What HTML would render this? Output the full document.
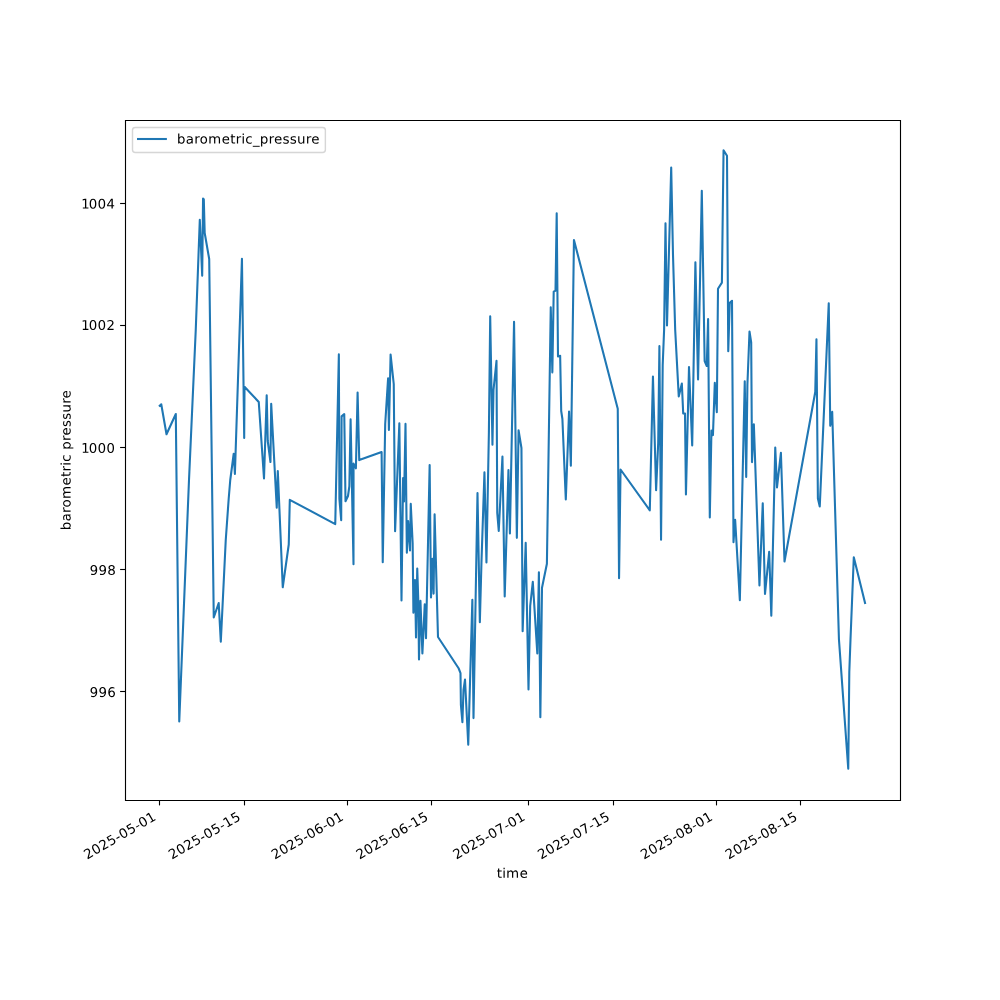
<!DOCTYPE html>
<html lang="en"><head><meta charset="utf-8"><title>barometric_pressure over time</title>
<style>
html,body{margin:0;padding:0;background:#fff;}
body{width:1000px;height:1000px;overflow:hidden;position:relative;font-family:"Liberation Sans",sans-serif;}
svg{position:absolute;left:0;top:0;display:block;}
svg.t text{font-family:"Liberation Sans",sans-serif;font-size:14.5px;fill:#000;fill-opacity:0;}
</style></head><body>
 <svg width="1000" height="1000" viewBox="0 0 720 720" role="img" aria-label="Line chart of barometric_pressure over time"><defs><style type="text/css">*{stroke-linejoin: round; stroke-linecap: butt}</style></defs><g id="figure_1"><g id="patch_1"><path d="M 0 720 L 720 720 L 720 0 L 0 0 z " style="fill: #ffffff"/></g><g id="axes_1"><g id="patch_2"><path d="M 90 576 L 648 576 L 648 86.4 L 90 86.4 z " style="fill: #ffffff"/></g><g id="matplotlib.axis_1"><g id="xtick_1"><g id="line2d_1"><defs><path id="mf0cb0c5681" d="M 0 0 L 0 3.5 " style="stroke: #000000; stroke-opacity: 0; stroke-width: 0.8"/></defs><g><use href="#mf0cb0c5681" x="114.768" y="576" style="fill-opacity: 0; stroke: #000000; stroke-opacity: 0; stroke-width: 0.8"/></g></g><g id="text_1" transform="translate(-0.648 0.288)"><!-- 2025-05-01 --><g transform="translate(63.398 618.638) rotate(-30) scale(0.1 -0.1)"><defs><path id="DejaVuSans-32" d="M 1228 531 L 3431 531 L 3431 0 L 469 0 L 469 531 Q 828 903 1448 1529 Q 2069 2156 2228 2338 Q 2531 2678 2651 2914 Q 2772 3150 2772 3378 Q 2772 3750 2511 3984 Q 2250 4219 1831 4219 Q 1534 4219 1204 4116 Q 875 4013 500 3803 L 500 4441 Q 881 4594 1212 4672 Q 1544 4750 1819 4750 Q 2544 4750 2975 4387 Q 3406 4025 3406 3419 Q 3406 3131 3298 2873 Q 3191 2616 2906 2266 Q 2828 2175 2409 1742 Q 1991 1309 1228 531 z " transform="scale(0.015)"/><path id="DejaVuSans-30" d="M 2034 4250 Q 1547 4250 1301 3770 Q 1056 3291 1056 2328 Q 1056 1369 1301 889 Q 1547 409 2034 409 Q 2525 409 2770 889 Q 3016 1369 3016 2328 Q 3016 3291 2770 3770 Q 2525 4250 2034 4250 z M 2034 4750 Q 2819 4750 3233 4129 Q 3647 3509 3647 2328 Q 3647 1150 3233 529 Q 2819 -91 2034 -91 Q 1250 -91 836 529 Q 422 1150 422 2328 Q 422 3509 836 4129 Q 1250 4750 2034 4750 z " transform="scale(0.015)"/><path id="DejaVuSans-35" d="M 691 4666 L 3169 4666 L 3169 4134 L 1269 4134 L 1269 2991 Q 1406 3038 1543 3061 Q 1681 3084 1819 3084 Q 2600 3084 3056 2656 Q 3513 2228 3513 1497 Q 3513 744 3044 326 Q 2575 -91 1722 -91 Q 1428 -91 1123 -41 Q 819 9 494 109 L 494 744 Q 775 591 1075 516 Q 1375 441 1709 441 Q 2250 441 2565 725 Q 2881 1009 2881 1497 Q 2881 1984 2565 2268 Q 2250 2553 1709 2553 Q 1456 2553 1204 2497 Q 953 2441 691 2322 L 691 4666 z " transform="scale(0.015)"/><path id="DejaVuSans-2d" d="M 313 2009 L 1997 2009 L 1997 1497 L 313 1497 L 313 2009 z " transform="scale(0.015)"/><path id="DejaVuSans-31" d="M 794 531 L 1825 531 L 1825 4091 L 703 3866 L 703 4441 L 1819 4666 L 2450 4666 L 2450 531 L 3481 531 L 3481 0 L 794 0 L 794 531 z " transform="scale(0.015)"/></defs><use href="#DejaVuSans-32"/><use href="#DejaVuSans-30" transform="translate(63.623 0)"/><use href="#DejaVuSans-32" transform="translate(127.246 0)"/><use href="#DejaVuSans-35" transform="translate(190.869 0)"/><use href="#DejaVuSans-2d" transform="translate(254.492 0)"/><use href="#DejaVuSans-30" transform="translate(290.576 0)"/><use href="#DejaVuSans-35" transform="translate(354.199 0)"/><use href="#DejaVuSans-2d" transform="translate(417.822 0)"/><use href="#DejaVuSans-30" transform="translate(453.906 0)"/><use href="#DejaVuSans-31" transform="translate(517.529 0)"/></g></g></g><g id="xtick_2"><g id="line2d_2"><g><use href="#mf0cb0c5681" x="175.772" y="576" style="fill-opacity: 0; stroke: #000000; stroke-opacity: 0; stroke-width: 0.8"/></g></g><g id="text_2" transform="translate(-0.648 0.288)"><!-- 2025-05-15 --><g transform="translate(124.402 618.638) rotate(-30) scale(0.1 -0.1)"><use href="#DejaVuSans-32"/><use href="#DejaVuSans-30" transform="translate(63.623 0)"/><use href="#DejaVuSans-32" transform="translate(127.246 0)"/><use href="#DejaVuSans-35" transform="translate(190.869 0)"/><use href="#DejaVuSans-2d" transform="translate(254.492 0)"/><use href="#DejaVuSans-30" transform="translate(290.576 0)"/><use href="#DejaVuSans-35" transform="translate(354.199 0)"/><use href="#DejaVuSans-2d" transform="translate(417.822 0)"/><use href="#DejaVuSans-31" transform="translate(453.906 0)"/><use href="#DejaVuSans-35" transform="translate(517.529 0)"/></g></g></g><g id="xtick_3"><g id="line2d_3"><g><use href="#mf0cb0c5681" x="249.848" y="576" style="fill-opacity: 0; stroke: #000000; stroke-opacity: 0; stroke-width: 0.8"/></g></g><g id="text_3" transform="translate(-0.648 0.288)"><!-- 2025-06-01 --><g transform="translate(198.479 618.638) rotate(-30) scale(0.1 -0.1)"><defs><path id="DejaVuSans-36" d="M 2113 2584 Q 1688 2584 1439 2293 Q 1191 2003 1191 1497 Q 1191 994 1439 701 Q 1688 409 2113 409 Q 2538 409 2786 701 Q 3034 994 3034 1497 Q 3034 2003 2786 2293 Q 2538 2584 2113 2584 z M 3366 4563 L 3366 3988 Q 3128 4100 2886 4159 Q 2644 4219 2406 4219 Q 1781 4219 1451 3797 Q 1122 3375 1075 2522 Q 1259 2794 1537 2939 Q 1816 3084 2150 3084 Q 2853 3084 3261 2657 Q 3669 2231 3669 1497 Q 3669 778 3244 343 Q 2819 -91 2113 -91 Q 1303 -91 875 529 Q 447 1150 447 2328 Q 447 3434 972 4092 Q 1497 4750 2381 4750 Q 2619 4750 2861 4703 Q 3103 4656 3366 4563 z " transform="scale(0.015)"/></defs><use href="#DejaVuSans-32"/><use href="#DejaVuSans-30" transform="translate(63.623 0)"/><use href="#DejaVuSans-32" transform="translate(127.246 0)"/><use href="#DejaVuSans-35" transform="translate(190.869 0)"/><use href="#DejaVuSans-2d" transform="translate(254.492 0)"/><use href="#DejaVuSans-30" transform="translate(290.576 0)"/><use href="#DejaVuSans-36" transform="translate(354.199 0)"/><use href="#DejaVuSans-2d" transform="translate(417.822 0)"/><use href="#DejaVuSans-30" transform="translate(453.906 0)"/><use href="#DejaVuSans-31" transform="translate(517.529 0)"/></g></g></g><g id="xtick_4"><g id="line2d_4"><g><use href="#mf0cb0c5681" x="310.852" y="576" style="fill-opacity: 0; stroke: #000000; stroke-opacity: 0; stroke-width: 0.8"/></g></g><g id="text_4" transform="translate(-0.648 0.288)"><!-- 2025-06-15 --><g transform="translate(259.483 618.638) rotate(-30) scale(0.1 -0.1)"><use href="#DejaVuSans-32"/><use href="#DejaVuSans-30" transform="translate(63.623 0)"/><use href="#DejaVuSans-32" transform="translate(127.246 0)"/><use href="#DejaVuSans-35" transform="translate(190.869 0)"/><use href="#DejaVuSans-2d" transform="translate(254.492 0)"/><use href="#DejaVuSans-30" transform="translate(290.576 0)"/><use href="#DejaVuSans-36" transform="translate(354.199 0)"/><use href="#DejaVuSans-2d" transform="translate(417.822 0)"/><use href="#DejaVuSans-31" transform="translate(453.906 0)"/><use href="#DejaVuSans-35" transform="translate(517.529 0)"/></g></g></g><g id="xtick_5"><g id="line2d_5"><g><use href="#mf0cb0c5681" x="380.571" y="576" style="fill-opacity: 0; stroke: #000000; stroke-opacity: 0; stroke-width: 0.8"/></g></g><g id="text_5" transform="translate(-0.648 0.288)"><!-- 2025-07-01 --><g transform="translate(329.202 618.638) rotate(-30) scale(0.1 -0.1)"><defs><path id="DejaVuSans-37" d="M 525 4666 L 3525 4666 L 3525 4397 L 1831 0 L 1172 0 L 2766 4134 L 525 4134 L 525 4666 z " transform="scale(0.015)"/></defs><use href="#DejaVuSans-32"/><use href="#DejaVuSans-30" transform="translate(63.623 0)"/><use href="#DejaVuSans-32" transform="translate(127.246 0)"/><use href="#DejaVuSans-35" transform="translate(190.869 0)"/><use href="#DejaVuSans-2d" transform="translate(254.492 0)"/><use href="#DejaVuSans-30" transform="translate(290.576 0)"/><use href="#DejaVuSans-37" transform="translate(354.199 0)"/><use href="#DejaVuSans-2d" transform="translate(417.822 0)"/><use href="#DejaVuSans-30" transform="translate(453.906 0)"/><use href="#DejaVuSans-31" transform="translate(517.529 0)"/></g></g></g><g id="xtick_6"><g id="line2d_6"><g><use href="#mf0cb0c5681" x="441.576" y="576" style="fill-opacity: 0; stroke: #000000; stroke-opacity: 0; stroke-width: 0.8"/></g></g><g id="text_6" transform="translate(-0.648 0.288)"><!-- 2025-07-15 --><g transform="translate(390.206 618.638) rotate(-30) scale(0.1 -0.1)"><use href="#DejaVuSans-32"/><use href="#DejaVuSans-30" transform="translate(63.623 0)"/><use href="#DejaVuSans-32" transform="translate(127.246 0)"/><use href="#DejaVuSans-35" transform="translate(190.869 0)"/><use href="#DejaVuSans-2d" transform="translate(254.492 0)"/><use href="#DejaVuSans-30" transform="translate(290.576 0)"/><use href="#DejaVuSans-37" transform="translate(354.199 0)"/><use href="#DejaVuSans-2d" transform="translate(417.822 0)"/><use href="#DejaVuSans-31" transform="translate(453.906 0)"/><use href="#DejaVuSans-35" transform="translate(517.529 0)"/></g></g></g><g id="xtick_7"><g id="line2d_7"><g><use href="#mf0cb0c5681" x="515.652" y="576" style="fill-opacity: 0; stroke: #000000; stroke-opacity: 0; stroke-width: 0.8"/></g></g><g id="text_7" transform="translate(-0.648 0.288)"><!-- 2025-08-01 --><g transform="translate(464.283 618.638) rotate(-30) scale(0.1 -0.1)"><defs><path id="DejaVuSans-38" d="M 2034 2216 Q 1584 2216 1326 1975 Q 1069 1734 1069 1313 Q 1069 891 1326 650 Q 1584 409 2034 409 Q 2484 409 2743 651 Q 3003 894 3003 1313 Q 3003 1734 2745 1975 Q 2488 2216 2034 2216 z M 1403 2484 Q 997 2584 770 2862 Q 544 3141 544 3541 Q 544 4100 942 4425 Q 1341 4750 2034 4750 Q 2731 4750 3128 4425 Q 3525 4100 3525 3541 Q 3525 3141 3298 2862 Q 3072 2584 2669 2484 Q 3125 2378 3379 2068 Q 3634 1759 3634 1313 Q 3634 634 3220 271 Q 2806 -91 2034 -91 Q 1263 -91 848 271 Q 434 634 434 1313 Q 434 1759 690 2068 Q 947 2378 1403 2484 z M 1172 3481 Q 1172 3119 1398 2916 Q 1625 2713 2034 2713 Q 2441 2713 2670 2916 Q 2900 3119 2900 3481 Q 2900 3844 2670 4047 Q 2441 4250 2034 4250 Q 1625 4250 1398 4047 Q 1172 3844 1172 3481 z " transform="scale(0.015)"/></defs><use href="#DejaVuSans-32"/><use href="#DejaVuSans-30" transform="translate(63.623 0)"/><use href="#DejaVuSans-32" transform="translate(127.246 0)"/><use href="#DejaVuSans-35" transform="translate(190.869 0)"/><use href="#DejaVuSans-2d" transform="translate(254.492 0)"/><use href="#DejaVuSans-30" transform="translate(290.576 0)"/><use href="#DejaVuSans-38" transform="translate(354.199 0)"/><use href="#DejaVuSans-2d" transform="translate(417.822 0)"/><use href="#DejaVuSans-30" transform="translate(453.906 0)"/><use href="#DejaVuSans-31" transform="translate(517.529 0)"/></g></g></g><g id="xtick_8"><g id="line2d_8"><g><use href="#mf0cb0c5681" x="576.656" y="576" style="fill-opacity: 0; stroke: #000000; stroke-opacity: 0; stroke-width: 0.8"/></g></g><g id="text_8" transform="translate(-0.648 0.288)"><!-- 2025-08-15 --><g transform="translate(525.287 618.638) rotate(-30) scale(0.1 -0.1)"><use href="#DejaVuSans-32"/><use href="#DejaVuSans-30" transform="translate(63.623 0)"/><use href="#DejaVuSans-32" transform="translate(127.246 0)"/><use href="#DejaVuSans-35" transform="translate(190.869 0)"/><use href="#DejaVuSans-2d" transform="translate(254.492 0)"/><use href="#DejaVuSans-30" transform="translate(290.576 0)"/><use href="#DejaVuSans-38" transform="translate(354.199 0)"/><use href="#DejaVuSans-2d" transform="translate(417.822 0)"/><use href="#DejaVuSans-31" transform="translate(453.906 0)"/><use href="#DejaVuSans-35" transform="translate(517.529 0)"/></g></g></g><g id="text_9"><!-- time --><g transform="translate(357.703 632.037) scale(0.1 -0.1)"><defs><path id="DejaVuSans-74" d="M 1172 4494 L 1172 3500 L 2356 3500 L 2356 3053 L 1172 3053 L 1172 1153 Q 1172 725 1289 603 Q 1406 481 1766 481 L 2356 481 L 2356 0 L 1766 0 Q 1100 0 847 248 Q 594 497 594 1153 L 594 3053 L 172 3053 L 172 3500 L 594 3500 L 594 4494 L 1172 4494 z " transform="scale(0.015)"/><path id="DejaVuSans-69" d="M 603 3500 L 1178 3500 L 1178 0 L 603 0 L 603 3500 z M 603 4863 L 1178 4863 L 1178 4134 L 603 4134 L 603 4863 z " transform="scale(0.015)"/><path id="DejaVuSans-6d" d="M 3328 2828 Q 3544 3216 3844 3400 Q 4144 3584 4550 3584 Q 5097 3584 5394 3201 Q 5691 2819 5691 2113 L 5691 0 L 5113 0 L 5113 2094 Q 5113 2597 4934 2840 Q 4756 3084 4391 3084 Q 3944 3084 3684 2787 Q 3425 2491 3425 1978 L 3425 0 L 2847 0 L 2847 2094 Q 2847 2600 2669 2842 Q 2491 3084 2119 3084 Q 1678 3084 1418 2786 Q 1159 2488 1159 1978 L 1159 0 L 581 0 L 581 3500 L 1159 3500 L 1159 2956 Q 1356 3278 1631 3431 Q 1906 3584 2284 3584 Q 2666 3584 2933 3390 Q 3200 3197 3328 2828 z " transform="scale(0.015)"/><path id="DejaVuSans-65" d="M 3597 1894 L 3597 1613 L 953 1613 Q 991 1019 1311 708 Q 1631 397 2203 397 Q 2534 397 2845 478 Q 3156 559 3463 722 L 3463 178 Q 3153 47 2828 -22 Q 2503 -91 2169 -91 Q 1331 -91 842 396 Q 353 884 353 1716 Q 353 2575 817 3079 Q 1281 3584 2069 3584 Q 2775 3584 3186 3129 Q 3597 2675 3597 1894 z M 3022 2063 Q 3016 2534 2758 2815 Q 2500 3097 2075 3097 Q 1594 3097 1305 2825 Q 1016 2553 972 2059 L 3022 2063 z " transform="scale(0.015)"/></defs><use href="#DejaVuSans-74"/><use href="#DejaVuSans-69" transform="translate(39.208 0)"/><use href="#DejaVuSans-6d" transform="translate(66.992 0)"/><use href="#DejaVuSans-65" transform="translate(164.404 0)"/></g></g></g><g id="matplotlib.axis_2"><g id="ytick_1"><g id="line2d_9"><defs><path id="m7ebbb2c059" d="M 0 0 L -3.5 0 " style="stroke: #000000; stroke-opacity: 0; stroke-width: 0.8"/></defs><g><use href="#m7ebbb2c059" x="90" y="498.024" style="fill-opacity: 0; stroke: #000000; stroke-opacity: 0; stroke-width: 0.8"/></g></g><g id="text_10" transform="translate(0.648 0.000)"><!-- 996 --><g transform="translate(63.912 501.823) scale(0.1 -0.1)"><defs><path id="DejaVuSans-39" d="M 703 97 L 703 672 Q 941 559 1184 500 Q 1428 441 1663 441 Q 2288 441 2617 861 Q 2947 1281 2994 2138 Q 2813 1869 2534 1725 Q 2256 1581 1919 1581 Q 1219 1581 811 2004 Q 403 2428 403 3163 Q 403 3881 828 4315 Q 1253 4750 1959 4750 Q 2769 4750 3195 4129 Q 3622 3509 3622 2328 Q 3622 1225 3098 567 Q 2575 -91 1691 -91 Q 1453 -91 1209 -44 Q 966 3 703 97 z M 1959 2075 Q 2384 2075 2632 2365 Q 2881 2656 2881 3163 Q 2881 3666 2632 3958 Q 2384 4250 1959 4250 Q 1534 4250 1286 3958 Q 1038 3666 1038 3163 Q 1038 2656 1286 2365 Q 1534 2075 1959 2075 z " transform="scale(0.015)"/></defs><use href="#DejaVuSans-39"/><use href="#DejaVuSans-39" transform="translate(63.623 0)"/><use href="#DejaVuSans-36" transform="translate(127.246 0)"/></g></g></g><g id="ytick_2"><g id="line2d_10"><g><use href="#m7ebbb2c059" x="90" y="410.112" style="fill-opacity: 0; stroke: #000000; stroke-opacity: 0; stroke-width: 0.8"/></g></g><g id="text_11" transform="translate(0.648 0.000)"><!-- 998 --><g transform="translate(63.912 413.911) scale(0.1 -0.1)"><use href="#DejaVuSans-39"/><use href="#DejaVuSans-39" transform="translate(63.623 0)"/><use href="#DejaVuSans-38" transform="translate(127.246 0)"/></g></g></g><g id="ytick_3"><g id="line2d_11"><g><use href="#m7ebbb2c059" x="90" y="322.2" style="fill-opacity: 0; stroke: #000000; stroke-opacity: 0; stroke-width: 0.8"/></g></g><g id="text_12"><!-- 1000 --><g transform="translate(57.55 325.999) scale(0.1 -0.1)"><use href="#DejaVuSans-31" transform="translate(9 0)"/><use href="#DejaVuSans-30" transform="translate(63.623 0)"/><use href="#DejaVuSans-30" transform="translate(127.246 0)"/><use href="#DejaVuSans-30" transform="translate(190.869 0)"/></g></g></g><g id="ytick_4"><g id="line2d_12"><g><use href="#m7ebbb2c059" x="90" y="234.288" style="fill-opacity: 0; stroke: #000000; stroke-opacity: 0; stroke-width: 0.8"/></g></g><g id="text_13" transform="translate(0.000 -0.576)"><!-- 1002 --><g transform="translate(57.55 238.087) scale(0.1 -0.1)"><use href="#DejaVuSans-31" transform="translate(9 0)"/><use href="#DejaVuSans-30" transform="translate(63.623 0)"/><use href="#DejaVuSans-30" transform="translate(127.246 0)"/><use href="#DejaVuSans-32" transform="translate(190.869 0)"/></g></g></g><g id="ytick_5"><g id="line2d_13"><g><use href="#m7ebbb2c059" x="90" y="146.376" style="fill-opacity: 0; stroke: #000000; stroke-opacity: 0; stroke-width: 0.8"/></g></g><g id="text_14"><!-- 1004 --><g transform="translate(57.55 150.175) scale(0.1 -0.1)"><defs><path id="DejaVuSans-34" d="M 2419 4116 L 825 1625 L 2419 1625 L 2419 4116 z M 2253 4666 L 3047 4666 L 3047 1625 L 3713 1625 L 3713 1100 L 3047 1100 L 3047 0 L 2419 0 L 2419 1100 L 313 1100 L 313 1709 L 2253 4666 z " transform="scale(0.015)"/></defs><use href="#DejaVuSans-31" transform="translate(9 0)"/><use href="#DejaVuSans-30" transform="translate(63.623 0)"/><use href="#DejaVuSans-30" transform="translate(127.246 0)"/><use href="#DejaVuSans-34" transform="translate(190.869 0)"/></g></g></g><g id="text_15" transform="translate(-0.648 0.000)"><!-- barometric pressure --><g transform="translate(51.470 381.721) rotate(-90) scale(0.1 -0.1)"><defs><path id="DejaVuSans-62" d="M 3116 1747 Q 3116 2381 2855 2742 Q 2594 3103 2138 3103 Q 1681 3103 1420 2742 Q 1159 2381 1159 1747 Q 1159 1113 1420 752 Q 1681 391 2138 391 Q 2594 391 2855 752 Q 3116 1113 3116 1747 z M 1159 2969 Q 1341 3281 1617 3432 Q 1894 3584 2278 3584 Q 2916 3584 3314 3078 Q 3713 2572 3713 1747 Q 3713 922 3314 415 Q 2916 -91 2278 -91 Q 1894 -91 1617 61 Q 1341 213 1159 525 L 1159 0 L 581 0 L 581 4863 L 1159 4863 L 1159 2969 z " transform="scale(0.015)"/><path id="DejaVuSans-61" d="M 2194 1759 Q 1497 1759 1228 1600 Q 959 1441 959 1056 Q 959 750 1161 570 Q 1363 391 1709 391 Q 2188 391 2477 730 Q 2766 1069 2766 1631 L 2766 1759 L 2194 1759 z M 3341 1997 L 3341 0 L 2766 0 L 2766 531 Q 2569 213 2275 61 Q 1981 -91 1556 -91 Q 1019 -91 701 211 Q 384 513 384 1019 Q 384 1609 779 1909 Q 1175 2209 1959 2209 L 2766 2209 L 2766 2266 Q 2766 2663 2505 2880 Q 2244 3097 1772 3097 Q 1472 3097 1187 3025 Q 903 2953 641 2809 L 641 3341 Q 956 3463 1253 3523 Q 1550 3584 1831 3584 Q 2591 3584 2966 3190 Q 3341 2797 3341 1997 z " transform="scale(0.015)"/><path id="DejaVuSans-72" d="M 2631 2963 Q 2534 3019 2420 3045 Q 2306 3072 2169 3072 Q 1681 3072 1420 2755 Q 1159 2438 1159 1844 L 1159 0 L 581 0 L 581 3500 L 1159 3500 L 1159 2956 Q 1341 3275 1631 3429 Q 1922 3584 2338 3584 Q 2397 3584 2469 3576 Q 2541 3569 2628 3553 L 2631 2963 z " transform="scale(0.015)"/><path id="DejaVuSans-6f" d="M 1959 3097 Q 1497 3097 1228 2736 Q 959 2375 959 1747 Q 959 1119 1226 758 Q 1494 397 1959 397 Q 2419 397 2687 759 Q 2956 1122 2956 1747 Q 2956 2369 2687 2733 Q 2419 3097 1959 3097 z M 1959 3584 Q 2709 3584 3137 3096 Q 3566 2609 3566 1747 Q 3566 888 3137 398 Q 2709 -91 1959 -91 Q 1206 -91 779 398 Q 353 888 353 1747 Q 353 2609 779 3096 Q 1206 3584 1959 3584 z " transform="scale(0.015)"/><path id="DejaVuSans-63" d="M 3122 3366 L 3122 2828 Q 2878 2963 2633 3030 Q 2388 3097 2138 3097 Q 1578 3097 1268 2742 Q 959 2388 959 1747 Q 959 1106 1268 751 Q 1578 397 2138 397 Q 2388 397 2633 464 Q 2878 531 3122 666 L 3122 134 Q 2881 22 2623 -34 Q 2366 -91 2075 -91 Q 1284 -91 818 406 Q 353 903 353 1747 Q 353 2603 823 3093 Q 1294 3584 2113 3584 Q 2378 3584 2631 3529 Q 2884 3475 3122 3366 z " transform="scale(0.015)"/><path id="DejaVuSans-20" transform="scale(0.015)"/><path id="DejaVuSans-70" d="M 1159 525 L 1159 -1331 L 581 -1331 L 581 3500 L 1159 3500 L 1159 2969 Q 1341 3281 1617 3432 Q 1894 3584 2278 3584 Q 2916 3584 3314 3078 Q 3713 2572 3713 1747 Q 3713 922 3314 415 Q 2916 -91 2278 -91 Q 1894 -91 1617 61 Q 1341 213 1159 525 z M 3116 1747 Q 3116 2381 2855 2742 Q 2594 3103 2138 3103 Q 1681 3103 1420 2742 Q 1159 2381 1159 1747 Q 1159 1113 1420 752 Q 1681 391 2138 391 Q 2594 391 2855 752 Q 3116 1113 3116 1747 z " transform="scale(0.015)"/><path id="DejaVuSans-73" d="M 2834 3397 L 2834 2853 Q 2591 2978 2328 3040 Q 2066 3103 1784 3103 Q 1356 3103 1142 2972 Q 928 2841 928 2578 Q 928 2378 1081 2264 Q 1234 2150 1697 2047 L 1894 2003 Q 2506 1872 2764 1633 Q 3022 1394 3022 966 Q 3022 478 2636 193 Q 2250 -91 1575 -91 Q 1294 -91 989 -36 Q 684 19 347 128 L 347 722 Q 666 556 975 473 Q 1284 391 1588 391 Q 1994 391 2212 530 Q 2431 669 2431 922 Q 2431 1156 2273 1281 Q 2116 1406 1581 1522 L 1381 1569 Q 847 1681 609 1914 Q 372 2147 372 2553 Q 372 3047 722 3315 Q 1072 3584 1716 3584 Q 2034 3584 2315 3537 Q 2597 3491 2834 3397 z " transform="scale(0.015)"/><path id="DejaVuSans-75" d="M 544 1381 L 544 3500 L 1119 3500 L 1119 1403 Q 1119 906 1312 657 Q 1506 409 1894 409 Q 2359 409 2629 706 Q 2900 1003 2900 1516 L 2900 3500 L 3475 3500 L 3475 0 L 2900 0 L 2900 538 Q 2691 219 2414 64 Q 2138 -91 1772 -91 Q 1169 -91 856 284 Q 544 659 544 1381 z M 1991 3584 L 1991 3584 z " transform="scale(0.015)"/></defs><use href="#DejaVuSans-62"/><use href="#DejaVuSans-61" transform="translate(63.476 0)"/><use href="#DejaVuSans-72" transform="translate(124.755 0)"/><use href="#DejaVuSans-6f" transform="translate(163.619 0)"/><use href="#DejaVuSans-6d" transform="translate(224.800 0)"/><use href="#DejaVuSans-65" transform="translate(322.212 0)"/><use href="#DejaVuSans-74" transform="translate(383.736 0)"/><use href="#DejaVuSans-72" transform="translate(422.945 0)"/><use href="#DejaVuSans-69" transform="translate(464.058 0)"/><use href="#DejaVuSans-63" transform="translate(491.841 0)"/><use href="#DejaVuSans-20" transform="translate(546.822 0)"/><use href="#DejaVuSans-70" transform="translate(578.609 0)"/><use href="#DejaVuSans-72" transform="translate(642.085 0)"/><use href="#DejaVuSans-65" transform="translate(680.949 0)"/><use href="#DejaVuSans-73" transform="translate(742.472 0)"/><use href="#DejaVuSans-73" transform="translate(794.572 0)"/><use href="#DejaVuSans-75" transform="translate(846.671 0)"/><use href="#DejaVuSans-72" transform="translate(910.050 0)"/><use href="#DejaVuSans-65" transform="translate(948.914 0)"/></g></g></g><g id="line2d_14"><path d="M 115.02 292.14 L 116.1 291.06 L 119.88 312.66 L 126.576 298.08 L 129.06 519.48 L 136.08 345.6 L 140.94 237.6 L 143.856 158.22 L 145.584 198.504 L 146.196 142.992 L 146.736 143.424 L 147.384 167.76 L 150.624 186.48 L 153.9 444.6 L 157.464 434.16 L 158.976 462.024 L 162.54 388.8 L 164.7 358.56 L 165.78 345.6 L 168.264 326.7 L 169.128 341.28 L 174.204 186.3 L 175.824 315.36 L 176.04 278.424 L 186.3 289.44 L 190.08 344.52 L 192.024 284.58 L 192.78 317.52 L 194.724 332.64 L 195.264 290.736 L 199.26 365.58 L 200.016 339.12 L 203.58 422.82 L 207.9 392.04 L 208.656 359.856 L 241.38 377.352 L 243.972 255.168 L 244.368 359.28 L 245.664 374.544 L 245.952 299.808 L 247.86 298.152 L 248.76 360.9 L 250.56 357.12 L 251.532 350.1 L 252.432 301.968 L 254.52 406.296 L 254.556 333.792 L 256.248 337.176 L 257.472 282.672 L 258.66 331.272 L 274.752 325.44 L 275.58 404.784 L 277.344 305.28 L 279.432 272.448 L 280.008 309.528 L 281.232 255.312 L 283.5 276.48 L 284.472 382.5 L 287.532 304.812 L 289.08 432.36 L 290.232 344.16 L 290.88 361.08 L 291.96 305.208 L 292.932 397.98 L 293.832 375.192 L 295.2 396.36 L 295.74 362.808 L 297.108 390.96 L 297.648 441.18 L 298.8 417.6 L 299.52 458.928 L 300.42 409.32 L 301.176 432.72 L 301.68 474.84 L 302.724 432.576 L 304.128 470.52 L 305.82 435.06 L 306.72 459.54 L 309.348 334.872 L 310.32 430.128 L 311.4 402.3 L 312.192 427.392 L 312.912 370.368 L 315.36 458.64 L 330.192 481.14 L 331.56 484.632 L 331.848 507.6 L 332.928 520.02 L 333.72 496.8 L 334.8 489.348 L 337.14 536.22 L 340.092 431.82 L 340.92 517.032 L 343.8 354.96 L 345.492 448.02 L 346.68 403.92 L 348.804 340.128 L 350.244 405 L 352.008 311.04 L 352.944 227.664 L 354.564 320.256 L 355.32 280.8 L 357.48 259.74 L 358.02 369.36 L 359.1 382.32 L 361.764 328.752 L 363.384 429.408 L 366.084 338.4 L 367.128 384.12 L 370.116 231.66 L 372.132 387.252 L 373.356 309.744 L 375.444 322.56 L 376.308 454.464 L 378.504 390.888 L 380.52 496.44 L 381.744 436.32 L 383.616 418.86 L 386.856 470.52 L 388.008 412.056 L 389.052 516.456 L 390.24 423.18 L 393.768 405.9 L 396.54 221.184 L 397.692 268.128 L 398.664 210.06 L 399.96 209.304 L 400.824 153.576 L 401.76 256.68 L 403.308 256.104 L 404.064 295.92 L 404.928 301.68 L 407.376 359.64 L 409.716 296.352 L 411.012 335.34 L 413.244 172.8 L 444.78 294.3 L 445.716 416.34 L 446.796 338.04 L 467.856 367.416 L 470.124 271.08 L 472.392 352.872 L 473.904 318.96 L 474.768 249.228 L 475.956 388.584 L 477.144 262.8 L 478.152 237.6 L 479.16 160.74 L 480.24 234.36 L 483.264 120.564 L 484.56 183.6 L 486.144 237.6 L 488.7 285.408 L 490.932 276.12 L 491.904 297.648 L 493.2 297.792 L 493.884 356.076 L 496.08 264.24 L 498.384 320.724 L 500.688 188.784 L 502.596 273.24 L 505.296 137.304 L 507.348 259.92 L 508.86 263.52 L 509.832 229.752 L 511.056 372.6 L 512.244 310.032 L 513.324 313.272 L 514.656 275.688 L 516.096 296.856 L 516.96 207.9 L 519.768 203.472 L 520.956 108.144 L 523.44 112.14 L 524.34 252.864 L 525.42 217.98 L 527.04 216.576 L 528.12 390.42 L 529.308 374.22 L 532.692 432.216 L 536.22 274.464 L 537.264 343.476 L 538.128 277.2 L 539.64 238.68 L 540.864 246.6 L 541.44 332.712 L 542.772 305.46 L 546.804 421.524 L 549.18 362.34 L 550.8 427.68 L 553.824 397.224 L 555.336 443.34 L 558.18 322.2 L 559.44 351 L 562.248 325.98 L 564.84 404.244 L 586.98 282.24 L 587.844 244.224 L 588.888 358.92 L 590.22 364.608 L 596.7 218.304 L 597.78 306.54 L 599.184 296.496 L 604.044 460.44 L 610.74 553.5 L 611.496 483.84 L 612.36 460.44 L 614.736 401.22 L 622.836 434.16 L 622.836 434.16 " clip-path="url(#p3753784f5d)" style="fill: none; stroke: #1f77b4; stroke-width: 1.5; stroke-linecap: square"/></g><g id="legend_1" transform="translate(0.403 0.403)"><g id="patch_3"><path d="M 97 109.356 L 231.865 109.356 Q 233.865 109.356 233.865 107.356 L 233.865 93.4 Q 233.865 91.4 231.865 91.4 L 97 91.4 Q 95 91.4 95 93.4 L 95 107.356 Q 95 109.356 97 109.356 z " style="fill: #ffffff; opacity: 0.8; stroke: #cccccc; stroke-linejoin: miter"/></g><g id="line2d_15" transform="translate(0.000 0.180)"><path d="M 99 99.498 L 109 99.498 L 119 99.498 " style="fill: none; stroke: #1f77b4; stroke-width: 1.5; stroke-linecap: square"/></g><g id="text_16"><!-- barometric_pressure --><g transform="translate(127 102.998) scale(0.1 -0.1)"><defs><path id="DejaVuSans-5f" d="M 3263 -1063 L 3263 -1509 L -63 -1509 L -63 -1063 L 3263 -1063 z " transform="scale(0.015)"/></defs><use href="#DejaVuSans-62"/><use href="#DejaVuSans-61" transform="translate(63.476 0)"/><use href="#DejaVuSans-72" transform="translate(124.755 0)"/><use href="#DejaVuSans-6f" transform="translate(163.619 0)"/><use href="#DejaVuSans-6d" transform="translate(224.800 0)"/><use href="#DejaVuSans-65" transform="translate(322.212 0)"/><use href="#DejaVuSans-74" transform="translate(383.736 0)"/><use href="#DejaVuSans-72" transform="translate(422.945 0)"/><use href="#DejaVuSans-69" transform="translate(464.058 0)"/><use href="#DejaVuSans-63" transform="translate(491.841 0)"/><use href="#DejaVuSans-5f" transform="translate(546.822 0)"/><use href="#DejaVuSans-70" transform="translate(596.822 0)"/><use href="#DejaVuSans-72" transform="translate(660.298 0)"/><use href="#DejaVuSans-65" transform="translate(699.162 0)"/><use href="#DejaVuSans-73" transform="translate(760.685 0)"/><use href="#DejaVuSans-73" transform="translate(812.785 0)"/><use href="#DejaVuSans-75" transform="translate(864.884 0)"/><use href="#DejaVuSans-72" transform="translate(928.263 0)"/><use href="#DejaVuSans-65" transform="translate(967.126 0)"/></g></g></g></g></g><defs><clipPath id="p3753784f5d"><rect x="90" y="86.4" width="558" height="489.6"/></clipPath></defs></svg> 
<svg class="t" width="1000" height="1000" viewBox="0 0 1000 1000" aria-hidden="false"><g stroke="#000" stroke-width="1.11" fill="none" stroke-linecap="butt"><path d="M125.5 120V801M900.5 120V801M125 120.5H901M125 800.5H901"/><path d="M159.5 801V805.4"/><path d="M244.5 801V805.4"/><path d="M347.5 801V805.4"/><path d="M431.5 801V805.4"/><path d="M528.5 801V805.4"/><path d="M613.5 801V805.4"/><path d="M716.5 801V805.4"/><path d="M800.5 801V805.4"/><path d="M120.1 203.5H125"/><path d="M120.1 325.5H125"/><path d="M120.1 447.5H125"/><path d="M120.1 569.5H125"/><path d="M120.1 691.5H125"/></g><text x="177" y="144" textLength="142" lengthAdjust="spacingAndGlyphs">barometric_pressure</text><text x="115" y="207.6" text-anchor="end">1004</text><text x="115" y="329.8" text-anchor="end">1002</text><text x="115" y="452.0" text-anchor="end">1000</text><text x="115" y="574.3" text-anchor="end">998</text><text x="115" y="696.3" text-anchor="end">996</text><text transform="translate(153.0,816) rotate(-30)" text-anchor="end" dy="7" textLength="75" lengthAdjust="spacingAndGlyphs">2025-05-01</text><text transform="translate(237.7,816) rotate(-30)" text-anchor="end" dy="7" textLength="75" lengthAdjust="spacingAndGlyphs">2025-05-15</text><text transform="translate(340.6,816) rotate(-30)" text-anchor="end" dy="7" textLength="75" lengthAdjust="spacingAndGlyphs">2025-06-01</text><text transform="translate(425.3,816) rotate(-30)" text-anchor="end" dy="7" textLength="75" lengthAdjust="spacingAndGlyphs">2025-06-15</text><text transform="translate(522.2,816) rotate(-30)" text-anchor="end" dy="7" textLength="75" lengthAdjust="spacingAndGlyphs">2025-07-01</text><text transform="translate(606.9,816) rotate(-30)" text-anchor="end" dy="7" textLength="75" lengthAdjust="spacingAndGlyphs">2025-07-15</text><text transform="translate(709.8,816) rotate(-30)" text-anchor="end" dy="7" textLength="75" lengthAdjust="spacingAndGlyphs">2025-08-01</text><text transform="translate(794.5,816) rotate(-30)" text-anchor="end" dy="7" textLength="75" lengthAdjust="spacingAndGlyphs">2025-08-15</text><text x="512" y="878" text-anchor="middle">time</text><text transform="translate(72,460) rotate(-90)" text-anchor="middle">barometric pressure</text></svg>
</body></html>
